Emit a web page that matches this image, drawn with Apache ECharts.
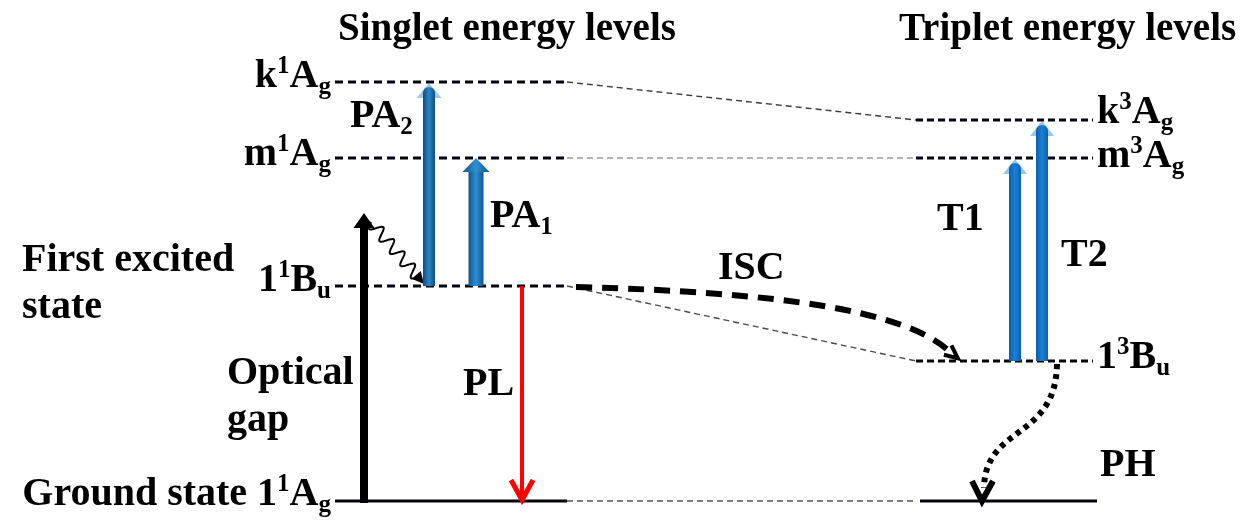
<!DOCTYPE html>
<html>
<head>
<meta charset="utf-8">
<title>Singlet and triplet energy levels</title>
<script src="https://cdn.jsdelivr.net/npm/echarts@6/dist/echarts.min.js"></script>
<style>
html, body { margin: 0; padding: 0; background: #fff; }
#chart { width: 1244px; height: 523px; }
</style>
</head>
<body>
<div id="chart"></div>
<script>
// ---------- Energy levels (arbitrary energy units, ground state = 0) ----------
// Label parts: [main, superscript, main, subscript]
const singletLabels = [['k', '1', 'A', 'g'], ['m', '1', 'A', 'g'], ['1', '1', 'B', 'u'], ['Ground state 1', '1', 'A', 'g']];
const singletEnergies = [419, 343, 215, 0];
const tripletLabels = [['k', '3', 'A', 'g'], ['m', '3', 'A', 'g'], ['1', '3', 'B', 'u'], null];
const tripletEnergies = [381, 343, 140, 0];

// ---------- Vertical transitions ----------
const transitionLabels = [['PA', '', '', '2'], ['PA', '', '', '1'], ['PL'], ['T1'], ['T2']];
const transitionFrom = [singletEnergies[2], singletEnergies[2], singletEnergies[2], tripletEnergies[2], tripletEnergies[2]];
const transitionTo = [singletEnergies[0], singletEnergies[1], singletEnergies[3], tripletEnergies[1], tripletEnergies[0]];

// Optical absorption from the ground state, then relaxation down to 1¹Bu
const opticalGap = [0, 288];
const relaxation = [279, 217];

// Curved transitions: intersystem crossing and phosphorescence
const curveLabels = ['ISC', 'PH'];
const curveFrom = [singletEnergies[2], tripletEnergies[2]];
const curveTo = [tripletEnergies[2], tripletEnergies[3]];

// Texts
const panelTitles = ['Singlet energy levels', 'Triplet energy levels'];
const sideNotes = ['First excited\nstate', 'Optical\ngap'];

// ---------- Layout (x in canvas units, y in energy units) ----------
const layout = {
  singletSpan: [335, 567],
  tripletSpan: [916, 1093],
  tripletGroundSpan: [920, 1097],
  singletLabelX: 331,
  tripletLabelX: 1097,
  singletLabelLift: [5, 3, 5, 6],
  tripletLabelLift: [7, 1, 3, 0],
  connectorColor: ['#3a3a3a', '#9a9a9a', '#4a4a4a', '#555555'],
  transitionX: [429, 476, 522, 1015, 1042],
  transitionLabelAt: [[350, 384], [490, 284], [463, 116], [937, 281], [1061, 245]],
  opticalX: 364,
  relaxX: [371, 424],
  // cubic control points [x, energy]
  curveCtrl: [
    [[576, 214], [770, 209], [905, 192], [950, 149]],
    [[1057, 137], [1056, 61], [985, 76], [984, 13]]
  ],
  curveLabelAt: [[718, 232], [1100, 35]],
  titleAt: [[338, 471], [899, 471]],
  sideNoteAt: [[22, 217], [227, 104]]
};

const FONT = "'Liberation Serif', 'Times New Roman', serif";
const RICH = {
  m: { fontFamily: FONT, fontWeight: 'bold', fontSize: 40, lineHeight: 46, fill: '#000' },
  sup: { fontFamily: FONT, fontWeight: 'bold', fontSize: 25, lineHeight: 34, verticalAlign: 'top', fill: '#000' },
  sub: { fontFamily: FONT, fontWeight: 'bold', fontSize: 25, lineHeight: 23, verticalAlign: 'bottom', fill: '#000' }
};

function richText(parts) {
  let s = '{m|' + parts[0] + '}';
  if (parts[1]) s += '{sup|' + parts[1] + '}';
  if (parts[2]) s += '{m|' + parts[2] + '}';
  if (parts[3]) s += '{sub|' + parts[3] + '}';
  return s;
}

function textEl(p, text, align, extra) {
  const style = Object.assign({
    text: text, rich: RICH, fill: '#000', fontFamily: FONT, fontWeight: 'bold',
    fontSize: 40, align: align || 'left', verticalAlign: 'middle'
  }, extra || {});
  return { type: 'text', x: p[0], y: p[1], z2: 30, style: style };
}

function headPoly(tip, dir, len, half) {
  const ux = dir[0], uy = dir[1], nx = -uy, ny = ux;
  const bx = tip[0] - ux * len, by = tip[1] - uy * len;
  return [[tip[0], tip[1]], [bx + nx * half, by + ny * half], [bx - nx * half, by - ny * half]];
}

function unit(a, b) {
  const dx = b[0] - a[0], dy = b[1] - a[1];
  const l = Math.hypot(dx, dy) || 1;
  return [dx / l, dy / l];
}

function cubicAt(p, t) {
  const u = 1 - t;
  return [
    u * u * u * p[0][0] + 3 * u * u * t * p[1][0] + 3 * u * t * t * p[2][0] + t * t * t * p[3][0],
    u * u * u * p[0][1] + 3 * u * u * t * p[1][1] + 3 * u * t * t * p[2][1] + t * t * t * p[3][1]
  ];
}

const blueFill = (dark, light) => new echarts.graphic.LinearGradient(0, 0, 1, 0, [
  { offset: 0, color: dark }, { offset: 0.5, color: light }, { offset: 1, color: dark }
]);

const transitionStyle = [
  { kind: 'blue', w: 12, headW: 25, solidHead: false, dark: '#0d4c82', light: '#2b87c8' },
  { kind: 'blue', w: 15, headW: 27, solidHead: true, dark: '#10548f', light: '#2e8fd4' },
  { kind: 'red', w: 4, color: '#ff0000' },
  { kind: 'blue', w: 12, headW: 24, solidHead: false, dark: '#0860ad', light: '#1a80d4' },
  { kind: 'blue', w: 12, headW: 24, solidHead: false, dark: '#0860ad', light: '#1a80d4' }
];

// ---------- Renderers ----------
function renderSinglet(params, api) {
  const i = params.dataIndex;
  const e = api.value(1);
  const a = api.coord([layout.singletSpan[0], e]);
  const b = api.coord([layout.singletSpan[1], e]);
  const ground = i === singletEnergies.length - 1;
  const lineStyle = { stroke: '#050510', lineWidth: 3 };
  if (!ground) lineStyle.lineDash = [8, 5];
  return {
    type: 'group',
    children: [
      { type: 'line', shape: { x1: a[0], y1: a[1], x2: b[0], y2: b[1] }, style: lineStyle },
      textEl(api.coord([layout.singletLabelX, e + layout.singletLabelLift[i]]), richText(singletLabels[i]), 'right')
    ]
  };
}

function renderTriplet(params, api) {
  const i = params.dataIndex;
  const e = api.value(1);
  const ground = !tripletLabels[i];
  const span = ground ? layout.tripletGroundSpan : layout.tripletSpan;
  const a = api.coord([span[0], e]);
  const b = api.coord([span[1], e]);
  const lineStyle = { stroke: '#050510', lineWidth: 3 };
  if (!ground) lineStyle.lineDash = [7, 4];
  const children = [{ type: 'line', shape: { x1: a[0], y1: a[1], x2: b[0], y2: b[1] }, style: lineStyle }];
  if (!ground) {
    children.push(textEl(api.coord([layout.tripletLabelX, e + layout.tripletLabelLift[i]]), richText(tripletLabels[i]), 'left'));
  }
  return { type: 'group', children: children };
}

function renderConnector(params, api) {
  const i = params.dataIndex;
  const a = api.coord([layout.singletSpan[1], api.value(0)]);
  const b = api.coord([layout.tripletSpan[0], api.value(1)]);
  return {
    type: 'line', shape: { x1: a[0], y1: a[1], x2: b[0], y2: b[1] },
    style: { stroke: layout.connectorColor[i], lineWidth: 1.4, lineDash: [6, 4] }
  };
}

function renderTransition(params, api) {
  const i = params.dataIndex;
  const x = layout.transitionX[i];
  const a = api.coord([x, api.value(0)]);
  const b = api.coord([x, api.value(1)]);
  const st = transitionStyle[i];
  const children = [];
  if (st.kind === 'blue') {
    const headH = 14;
    const hw = st.headW / 2;
    if (st.solidHead) {
      const top = b[1] + headH;
      children.push({ type: 'rect', shape: { x: a[0] - st.w / 2, y: top, width: st.w, height: a[1] - top },
        style: { fill: blueFill(st.dark, st.light) } });
      children.push({ type: 'polygon', shape: { points: [[b[0], b[1]], [b[0] - hw, top], [b[0] + hw, top]] },
        style: { fill: blueFill(st.dark, st.light) } });
    } else {
      children.push({ type: 'polygon', shape: { points: [[b[0], b[1] + 1], [b[0] - hw, b[1] + headH + 2], [b[0] + hw, b[1] + headH + 2]] },
        style: { fill: st.light, opacity: 0.45 } });
      const top = b[1] + 5;
      children.push({ type: 'rect', shape: { x: a[0] - st.w / 2, y: top, width: st.w, height: a[1] - top, r: [st.w / 2, st.w / 2, 0, 0] },
        style: { fill: blueFill(st.dark, st.light) } });
    }
  } else {
    children.push({ type: 'line', shape: { x1: a[0], y1: a[1], x2: b[0], y2: b[1] - 2 },
      style: { stroke: st.color, lineWidth: st.w } });
    children.push({ type: 'polyline', shape: { points: [[b[0] - 11, b[1] - 21], [b[0], b[1] - 1], [b[0] + 11, b[1] - 21]] },
      style: { stroke: st.color, lineWidth: 5, fill: null, lineJoin: 'miter' } });
  }
  children.push(textEl(api.coord(layout.transitionLabelAt[i]), richText(transitionLabels[i]), 'left'));
  return { type: 'group', children: children };
}

function renderOptical(params, api) {
  const x = layout.opticalX;
  const a = api.coord([x, api.value(0)]);
  const b = api.coord([x, api.value(1)]);
  const headH = 15, hw = 10.5;
  return {
    type: 'group',
    children: [
      { type: 'rect', shape: { x: a[0] - 4, y: b[1] + headH - 1, width: 8, height: a[1] - b[1] - headH + 3 }, style: { fill: '#000' } },
      { type: 'polygon', shape: { points: [[b[0], b[1]], [b[0] - hw, b[1] + headH], [b[0] + hw, b[1] + headH]] }, style: { fill: '#000' } }
    ]
  };
}

function renderRelaxation(params, api) {
  const S = api.coord([layout.relaxX[0], api.value(0)]);
  const E = api.coord([layout.relaxX[1], api.value(1)]);
  const u = unit(S, E);
  const n = [-u[1], u[0]];
  const len = Math.hypot(E[0] - S[0], E[1] - S[1]);
  const body = len - 9;
  const pts = [];
  const steps = 160;
  for (let k = 0; k <= steps; k++) {
    const s = body * k / steps;
    const o = 6 * Math.sin(2 * Math.PI * 4.5 * s / body);
    pts.push([S[0] + u[0] * s + n[0] * o, S[1] + u[1] * s + n[1] * o]);
  }
  return {
    type: 'group',
    children: [
      { type: 'polyline', shape: { points: pts }, style: { stroke: '#000', lineWidth: 2, fill: null } },
      { type: 'polygon', shape: { points: headPoly(E, u, 12, 6) }, style: { fill: '#000' } }
    ]
  };
}

function renderCurve(params, api) {
  const i = params.dataIndex;
  const ctrl = layout.curveCtrl[i].map(p => api.coord(p));
  const children = [];
  const endTip = api.coord([layout.curveCtrl[i][3][0], api.value(1)]);
  const shape = { x1: ctrl[0][0], y1: ctrl[0][1], cpx1: ctrl[1][0], cpy1: ctrl[1][1], cpx2: ctrl[2][0], cpy2: ctrl[2][1], x2: ctrl[3][0], y2: ctrl[3][1] };
  if (i === 0) {
    children.push({ type: 'bezierCurve', shape: shape,
      style: { stroke: '#000', lineWidth: 6, lineDash: [16, 10], fill: null } });
    const d = unit(cubicAt(ctrl, 0.93), ctrl[3]);
    const tip = [ctrl[3][0] + d[0] * 10, ctrl[3][1] + d[1] * 10];
    const back = [tip[0] - d[0] * 13, tip[1] - d[1] * 13];
    const n = [-d[1], d[0]];
    children.push({ type: 'polyline', shape: { points: [[back[0] + n[0] * 6, back[1] + n[1] * 6], tip, [back[0] - n[0] * 6, back[1] - n[1] * 6]] },
      style: { stroke: '#000', lineWidth: 4, fill: null } });
  } else {
    children.push({ type: 'bezierCurve', shape: shape,
      style: { stroke: '#000', lineWidth: 6, lineDash: [5, 5], fill: null } });
    const tip = [endTip[0] - 2, endTip[1]];
    children.push({ type: 'polyline', shape: { points: [[tip[0] - 10, tip[1] - 20], tip, [tip[0] + 11, tip[1] - 20]] },
      style: { stroke: '#000', lineWidth: 6, fill: null } });
  }
  children.push(textEl(api.coord(layout.curveLabelAt[i]), '{m|' + curveLabels[i] + '}', 'left'));
  return { type: 'group', children: children };
}

function renderText(params, api) {
  const i = params.dataIndex;
  if (i < panelTitles.length) {
    return textEl(api.coord(layout.titleAt[i]), panelTitles[i], 'left', { fontSize: 39, rich: null });
  }
  const j = i - panelTitles.length;
  return textEl(api.coord(layout.sideNoteAt[j]), sideNotes[j], 'left', { fontSize: 40, lineHeight: 47, rich: null });
}

// ---------- Chart ----------
const chart = echarts.init(document.getElementById('chart'), null, { renderer: 'canvas' });
chart.setOption({
  animation: false,
  backgroundColor: '#ffffff',
  grid: { left: 0, right: 0, top: 0, bottom: 0 },
  xAxis: { type: 'value', min: 0, max: 1244, show: false },
  yAxis: { type: 'value', min: -22, max: 501, show: false },
  series: [
    { type: 'custom', name: 'Connectors', renderItem: renderConnector, z: 1,
      data: singletEnergies.map((e, i) => [e, tripletEnergies[i]]) },
    { type: 'custom', name: 'Singlet levels', renderItem: renderSinglet, z: 2,
      data: singletEnergies.map((e, i) => [i, e]) },
    { type: 'custom', name: 'Triplet levels', renderItem: renderTriplet, z: 2,
      data: tripletEnergies.map((e, i) => [i, e]) },
    { type: 'custom', name: 'Optical gap', renderItem: renderOptical, z: 3, data: [opticalGap] },
    { type: 'custom', name: 'Relaxation', renderItem: renderRelaxation, z: 3, data: [relaxation] },
    { type: 'custom', name: 'Transitions', renderItem: renderTransition, z: 4,
      data: transitionFrom.map((f, i) => [f, transitionTo[i]]) },
    { type: 'custom', name: 'ISC / PH', renderItem: renderCurve, z: 4,
      data: curveFrom.map((f, i) => [f, curveTo[i]]) },
    { type: 'custom', name: 'Texts', renderItem: renderText, z: 5,
      data: panelTitles.concat(sideNotes).map((t, i) => [i, 0]) }
  ]
});
</script>
</body>
</html>
